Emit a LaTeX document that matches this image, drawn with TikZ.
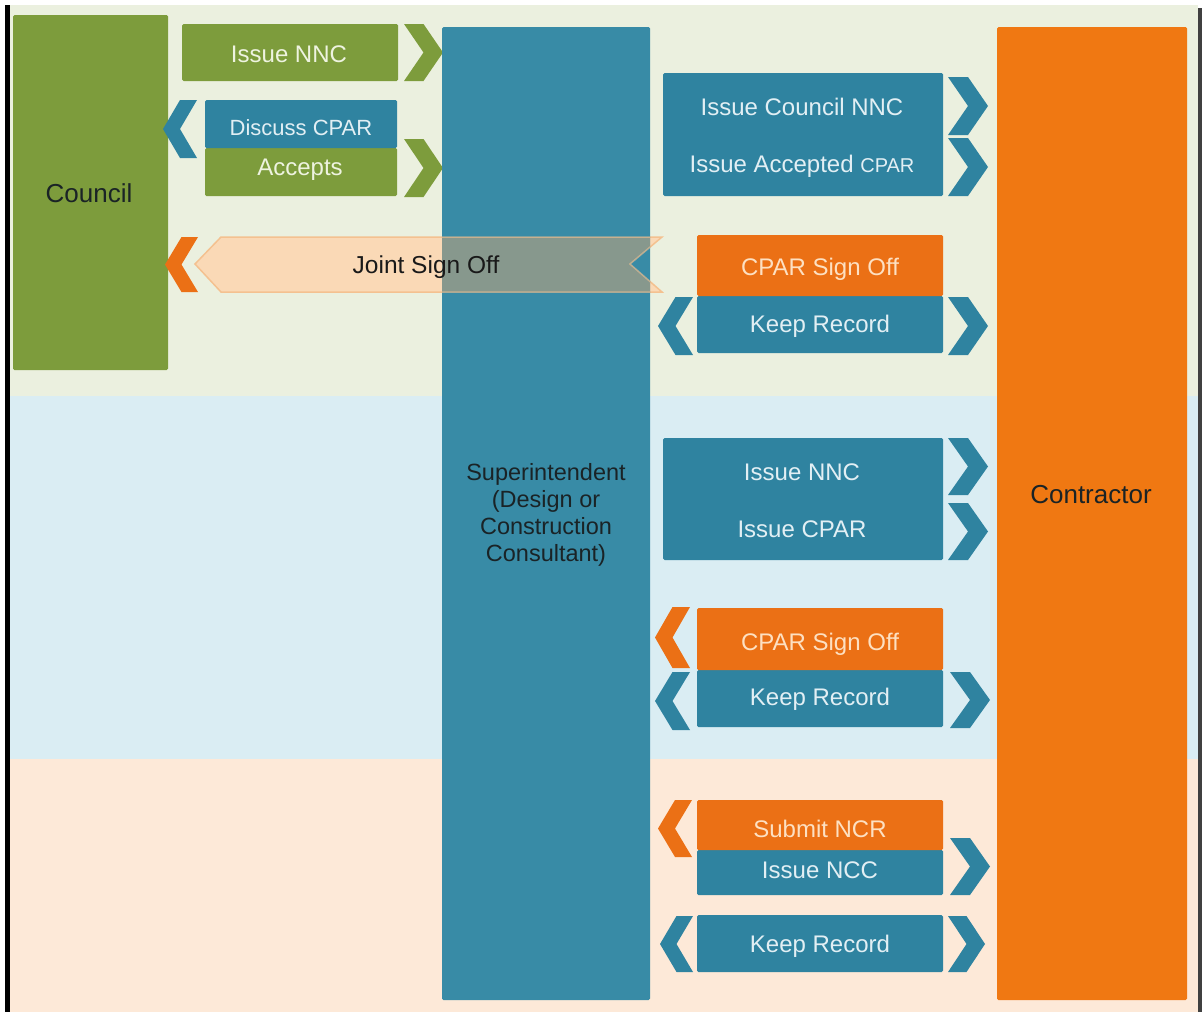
\documentclass[tikz,border=0pt]{standalone}
\usepackage{fontspec}
\setmainfont{Liberation Sans}
\definecolor{bgG}{HTML}{EBF0DF}
\definecolor{bgB}{HTML}{DAEDF3}
\definecolor{bgP}{HTML}{FDE9D8}
\definecolor{cGreen}{HTML}{7D9C3C}
\definecolor{cBlue}{HTML}{2F83A0}
\definecolor{cBar}{HTML}{388BA6}
\definecolor{cOrange}{HTML}{EB7015}
\definecolor{cContr}{HTML}{F07812}
\definecolor{tBlue}{HTML}{E2EFF4}
\definecolor{tGreen}{HTML}{EEF3E0}
\definecolor{tOrange}{HTML}{FDE0C2}
\definecolor{tDark}{HTML}{1A2326}
\definecolor{jsFill}{HTML}{FAD9B6}
\definecolor{jsOver}{HTML}{E8A870}
\definecolor{jsLine}{HTML}{F4C190}
\newcommand{\chevR}[5]{\fill[#5] (#1,#3) -- ({(#1+#2)/2},#3) -- (#2,{(#3+#4)/2}) -- ({(#1+#2)/2},#4) -- (#1,#4) -- ({(#1+#2)/2},{(#3+#4)/2}) -- cycle;}
\newcommand{\chevL}[5]{\fill[#5] (#2,#3) -- ({(#1+#2)/2},#3) -- (#1,{(#3+#4)/2}) -- ({(#1+#2)/2},#4) -- (#2,#4) -- ({(#1+#2)/2},{(#3+#4)/2}) -- cycle;}
\begin{document}
\begin{tikzpicture}[x=1pt,y=-1pt,
  box/.style={rectangle, rounded corners=1.5pt, inner sep=0pt, draw=none},
  lbl/.style={anchor=base, inner sep=0pt, font=\fontsize{24}{28}\selectfont},
  big/.style={anchor=base, inner sep=0pt, font=\fontsize{26}{30}\selectfont, text=tDark},
]
\useasboundingbox (0,0) rectangle (1202,1012);
\fill[white] (0,0) rectangle (1202,1012);
% background bands
\fill[bgG] (10,5) rectangle (1198,396);
\fill[bgB] (10,396) rectangle (1198,759);
\fill[bgP] (10,759) rectangle (1198,1012);
\fill[black] (5,5) rectangle (10,1012);
\fill[black!75] (1198,8) rectangle (1202,1012);

% Council column
\node[box, fill=cGreen, minimum width=155, minimum height=355] (council) at (90.5,192.5) {};
\node[big] (councilT) at (89,202) {Council};

% Council actions
\node[box, fill=cGreen, minimum width=216, minimum height=57] (issnnc) at (290,52.5) {};
\node[lbl, text=tGreen] (issnncT) at (289,62) {Issue NNC};
\node[box, fill=cGreen, minimum width=192, minimum height=48] (accepts) at (301,172) {};
\node[box, fill=cBlue, minimum width=192, minimum height=48] (discuss) at (301,124) {};
\node[lbl, text=tBlue, font=\fontsize{22}{26}\selectfont] (discussT) at (301,135) {Discuss CPAR};
\node[lbl, text=tGreen] (acceptsT) at (300,175) {Accepts};
\chevR{404}{443}{24}{81}{cGreen}
\chevL{163}{197}{100}{158}{cBlue}
\chevR{404}{443}{139}{197}{cGreen}

% Joint sign off arrow (under the bar)
\filldraw[fill=jsFill, draw=jsLine, line width=1.5pt] (195,264) -- (221,237) -- (662,237) -- (630,264) -- (662,292) -- (221,292) -- cycle;
\chevL{165}{198}{237}{292}{cOrange}

% Superintendent column
\node[box, fill=cBar, minimum width=208, minimum height=973] (super) at (546,513.5) {};
\node[lbl, text=tDark, align=center, font=\fontsize{23.5}{27}\selectfont, anchor=north] (superT) at (546,463) {Superintendent\\(Design or\\Construction\\Consultant)};

% translucent overlap of the arrow over the bar
\begin{scope}
\clip (442,27) rectangle (650,1000);
\filldraw[fill=jsOver, draw=jsLine, line width=1.5pt, fill opacity=0.45, draw opacity=0.6] (195,264) -- (221,237) -- (662,237) -- (630,264) -- (662,292) -- (221,292) -- cycle;
\end{scope}
\node[lbl, text=black!90, font=\fontsize{24.5}{28}\selectfont] (jointT) at (426,273) {Joint Sign Off};

% Contractor column
\node[box, fill=cContr, minimum width=190, minimum height=973] (contr) at (1092,513.5) {};
\node[big] (contrT) at (1091,503) {Contractor};

% Top right group
\node[box, fill=cBlue, minimum width=280, minimum height=123] (boxA) at (803,134.5) {};
\node[lbl, text=tBlue] (icnnc) at (802,115) {Issue Council NNC};
\node[lbl, text=tBlue] (iacpar) at (802,172) {Issue Accepted {\fontsize{20}{24}\selectfont CPAR}};
\chevR{948}{988}{77}{135}{cBlue}
\chevR{948}{988}{138}{196}{cBlue}

\node[box, fill=cBlue, minimum width=246, minimum height=57] (keep1) at (820,324.5) {};
\node[box, fill=cOrange, minimum width=246, minimum height=61] (cpar1) at (820,265.5) {};
\node[lbl, text=tOrange] (cpar1T) at (820,275) {CPAR Sign Off};
\node[lbl, text=tBlue] (keep1T) at (820,332) {Keep Record};
\chevL{658}{693}{297}{355}{cBlue}
\chevR{948}{988}{297}{355}{cBlue}

% Middle group
\node[box, fill=cBlue, minimum width=280, minimum height=122] (boxC) at (803,499) {};
\node[lbl, text=tBlue] (innc) at (802,480) {Issue NNC};
\node[lbl, text=tBlue] (icpar) at (802,537) {Issue CPAR};
\chevR{948}{988}{438}{495}{cBlue}
\chevR{948}{988}{503}{560}{cBlue}

\node[box, fill=cBlue, minimum width=246, minimum height=57] (keep2) at (820,698.5) {};
\node[box, fill=cOrange, minimum width=246, minimum height=62] (cpar2) at (820,639) {};
\node[lbl, text=tOrange] (cpar2T) at (820,650) {CPAR Sign Off};
\node[lbl, text=tBlue] (keep2T) at (820,705) {Keep Record};
\chevL{655}{690}{607}{668}{cOrange}
\chevL{655}{690}{672}{730}{cBlue}
\chevR{950}{990}{672}{728}{cBlue}

% Bottom group
\node[box, fill=cBlue, minimum width=246, minimum height=45] (issncc) at (820,872.5) {};
\node[box, fill=cOrange, minimum width=246, minimum height=50] (submit) at (820,825) {};
\node[lbl, text=tOrange] (submitT) at (820,837) {Submit NCR};
\node[lbl, text=tBlue] (issnccT) at (820,878) {Issue NCC};
\chevL{658}{692}{800}{857}{cOrange}
\chevR{950}{990}{838}{895}{cBlue}

\node[box, fill=cBlue, minimum width=246, minimum height=57] (keep3) at (820,943.5) {};
\node[lbl, text=tBlue] (keep3T) at (820,952) {Keep Record};
\chevL{660}{693}{916}{972}{cBlue}
\chevR{948}{985}{916}{972}{cBlue}
\end{tikzpicture}
\end{document}
